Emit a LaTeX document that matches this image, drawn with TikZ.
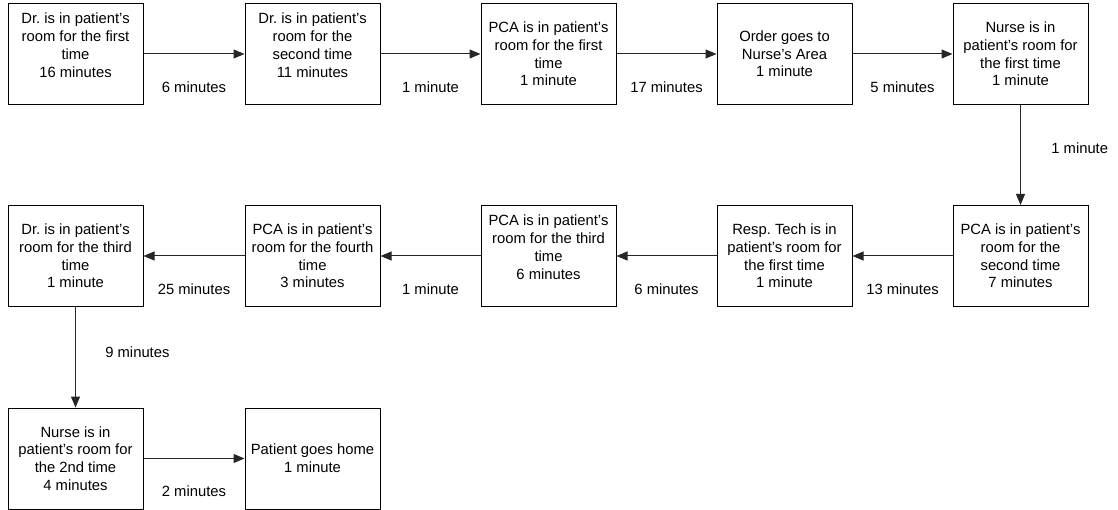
\documentclass[tikz,border=0pt]{standalone}
\usepackage{fontspec}
\setmainfont{Liberation Sans}
\usetikzlibrary{arrows.meta,positioning}
\frenchspacing

\tikzset{
  stepbox/.style={draw=black, line width=1pt, minimum width=135pt, minimum height=101pt,
    inner sep=0pt, align=center, font=\fontsize{14.8}{17.7}\selectfont},
  flow/.style={draw=black!85, line width=1pt, -{Triangle[length=11pt,width=9pt]}},
  lbl/.style={font=\fontsize{14.8}{17.7}\selectfont}
}

\begin{document}
\begin{tikzpicture}[x=1pt,y=-1pt]
\useasboundingbox (0,0) rectangle (1118,510);
% first row
\node[stepbox] (dr1)    at (75.5,54)   {Dr. is in patient’s\\room for the first\\time\\16 minutes\\\mbox{}};
\node[stepbox] (dr2)    at (312.5,54)  {Dr. is in patient’s\\room for the\\second time\\11 minutes\\\mbox{}};
\node[stepbox] (pca1)   at (548.5,54)  {PCA is in patient’s\\room for the first\\time\\1 minute};
\node[stepbox] (order)  at (784.5,54)  {Order goes to\\Nurse’s Area\\1 minute};
\node[stepbox] (nurse1) at (1020.5,54) {Nurse is in\\patient’s room for\\the first time\\1 minute};
% second row
\node[stepbox] (pca2)   at (1020.5,256) {PCA is in patient’s\\room for the\\second time\\7 minutes};
\node[stepbox] (resp)   at (784.5,256)  {Resp. Tech is in\\patient’s room for\\the first time\\1 minute};
\node[stepbox] (pca3)   at (548.5,256)  {PCA is in patient’s\\room for the third\\time\\6 minutes\\\mbox{}};
\node[stepbox] (pca4)   at (312.5,256)  {PCA is in patient’s\\room for the fourth\\time\\3 minutes};
\node[stepbox] (dr3)    at (75.5,256)   {Dr. is in patient’s\\room for the third\\time\\1 minute};
% third row
\node[stepbox] (nurse2) at (75.5,458.5)  {Nurse is in\\patient’s room for\\the 2nd time\\4 minutes};
\node[stepbox] (home)   at (312.5,458.5) {Patient goes home\\1 minute};

\foreach \s/\e/\t in {dr1/dr2/6 minutes, dr2/pca1/1 minute, pca1/order/17 minutes,
    order/nurse1/5 minutes, pca2/resp/13 minutes, resp/pca3/6 minutes,
    pca3/pca4/1 minute, pca4/dr3/25 minutes, nurse2/home/2 minutes}
  \draw[flow] (\s) -- (\e) node[lbl, midway, yshift=-33pt] {\t};

\draw[flow] (nurse1) -- (pca2) node[lbl, midway, anchor=west, xshift=27pt, yshift=7pt] {1 minute};
\draw[flow] (dr3) -- (nurse2) node[lbl, midway, anchor=west, xshift=26pt, yshift=5pt] {9 minutes};
\end{tikzpicture}
\end{document}
